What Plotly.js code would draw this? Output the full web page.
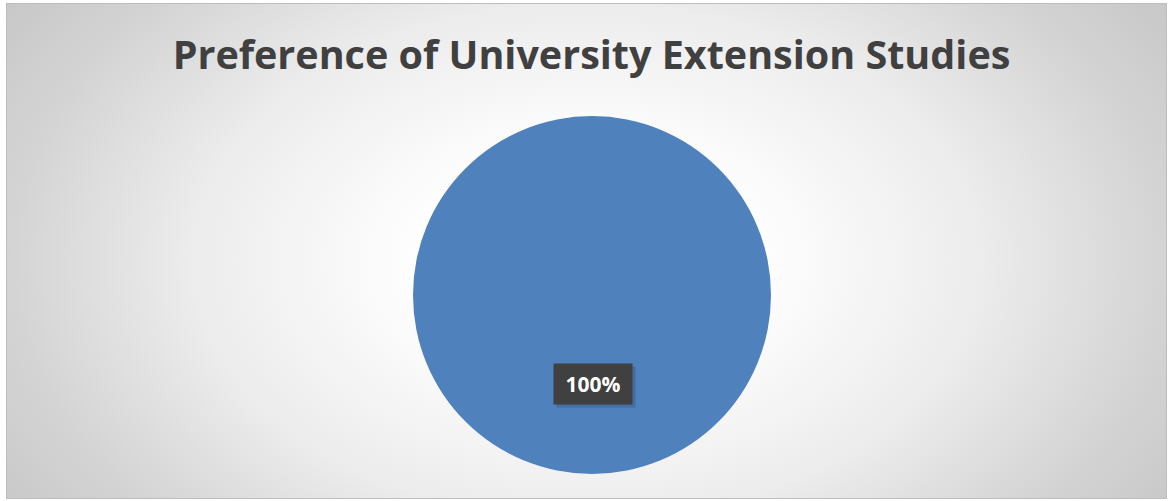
<!DOCTYPE html>
<html>
<head>
<meta charset="utf-8">
<script src="https://cdn.plot.ly/plotly-3.0.1.min.js"></script>
<style>
  html, body { margin:0; padding:0; background:#ffffff; }
  #frame {
    position:absolute; left:6px; top:3px; width:1159px; height:494px;
    border:1px solid #bdbdbd;
    background: radial-gradient(ellipse 62% 95% at 50% 52%, #ffffff 0%, #ffffff 22%, #ececec 55%, #d4d4d4 80%, #c6c6c6 100%);
  }
  #chart { position:absolute; left:0; top:0; width:1169px; height:501px; }
</style>
</head>
<body>
<div id="frame"></div>
<div id="chart"></div>
<script>
const categories = ["Yes"];
const values = [100];
const labelText = ["100%"];
const titleText = "Preference of University Extension Studies";

const trace = {
  type: "pie",
  labels: categories,
  values: values,
  textinfo: "none",
  hoverinfo: "label+percent",
  sort: false,
  marker: { colors: ["#4F81BD"], line: { width: 0 } },
  domain: { x: [413/1169, 771/1169], y: [27/501, 385/501] },
  showlegend: false
};

const lx = 593/1169, ly = (501-384)/501;
const layout = {
  width: 1169, height: 501,
  margin: { l: 0, r: 0, t: 0, b: 0 },
  paper_bgcolor: "rgba(0,0,0,0)",
  plot_bgcolor: "rgba(0,0,0,0)",
  title: {
    text: "<b>" + titleText + "</b>",
    font: { family: "Open Sans", size: 39.5, color: "#404040" },
    x: 0.506, xanchor: "center",
    y: 0.89, yanchor: "middle"
  },
  annotations: [{
    text: " ",
    xref: "paper", yref: "paper",
    x: lx + 3/1169, y: ly - 3/501,
    xanchor: "center", yanchor: "middle",
    showarrow: false,
    font: { family: "Open Sans", size: 21, color: "#ffffff" },
    bgcolor: "rgba(30,40,60,0.22)",
    width: 68, height: 30, borderpad: 5
  }, {
    text: "<b>" + labelText[0] + "</b>",
    xref: "paper", yref: "paper",
    x: lx, y: ly,
    xanchor: "center", yanchor: "middle",
    showarrow: false,
    font: { family: "Open Sans", size: 21, color: "#ffffff" },
    bgcolor: "#404040",
    width: 68, height: 30, borderpad: 5
  }]
};

Plotly.newPlot("chart", [trace], layout, { displayModeBar: false, staticPlot: true });
</script>
</body>
</html>
